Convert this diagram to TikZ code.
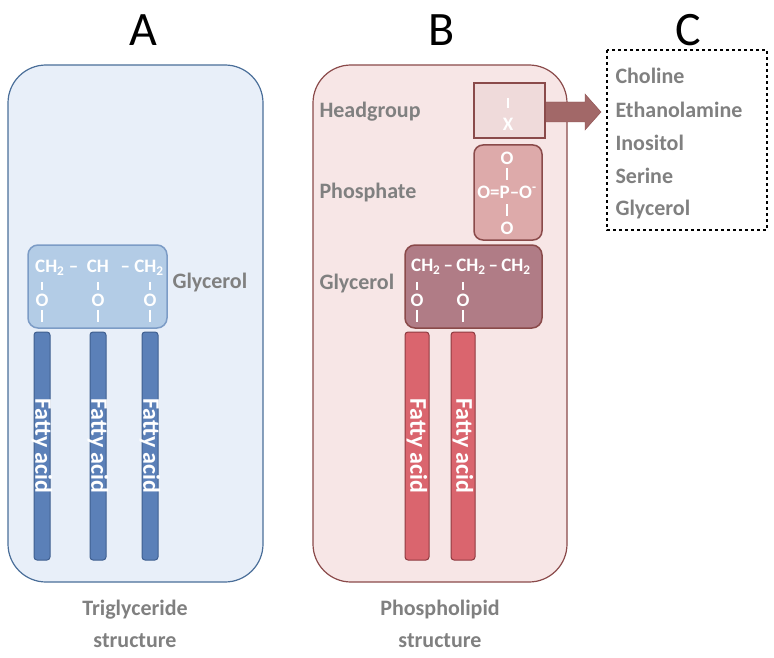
\documentclass[tikz,border=0pt]{standalone}
\usepackage{fontspec}
\setmainfont{Carlito}
\usetikzlibrary{shapes.arrows}
\definecolor{gtxt}{HTML}{808080}
\definecolor{bpanel}{HTML}{E8EFF9}
\definecolor{bborder}{HTML}{4A6E99}
\definecolor{bgly}{HTML}{B3CCE6}
\definecolor{bglyb}{HTML}{7C9CC6}
\definecolor{bfa}{HTML}{5B80B8}
\definecolor{bfab}{HTML}{3F5F90}
\definecolor{rpanel}{HTML}{F7E6E6}
\definecolor{rborder}{HTML}{8A4A4A}
\definecolor{rhead}{HTML}{EFDADA}
\definecolor{rphos}{HTML}{DDAAAA}
\definecolor{rgly}{HTML}{B07C86}
\definecolor{rfa}{HTML}{DA656E}
\definecolor{rfab}{HTML}{8F3A40}
\definecolor{rarrow}{HTML}{A26868}
\begin{document}
\begin{tikzpicture}[x=1pt,y=-1pt,
  lab/.style={font=\fontsize{22}{24}\selectfont\bfseries, text=gtxt},
  big/.style={font=\fontsize{48}{50}\selectfont},
  chem/.style={font=\fontsize{19}{20}\selectfont\bfseries, text=white, inner sep=0},
  fa/.style={font=\fontsize{24}{26}\selectfont\bfseries, text=white, rotate=-90}]
\useasboundingbox (0,0) rectangle (774,658);
% headings
\node[big] (hA) at (143,30) {A};
\node[big] (hB) at (442,30) {B};
\node[big] (hC) at (688,30) {C};
% panel A
\draw[bborder, fill=bpanel, line width=1.2, rounded corners=38] (8,65) rectangle (263,582);
\draw[bglyb, fill=bgly, line width=1.5, rounded corners=10] (28,245) rectangle (167,328);
\node[chem, anchor=west] (ga1) at (35,268) {CH\textsubscript{2} -- \ CH \ \,-- CH\textsubscript{2}};
\foreach \x/\n in {42/a,98/b,150/c}{
  \node[chem] (o\n) at (\x,300) {O};
  \draw[white, line width=1.5] (\x,282) -- (\x,290) (\x,310) -- (\x,322);
  \draw[bfab, fill=bfa, line width=1, rounded corners=3] (\x-8,332) rectangle (\x+8,560);
  \node[fa] (fa\n) at (\x,446) {Fatty acid};
}
\node[lab, anchor=west] (glyA) at (169,283) {Glycerol};
\node[lab, align=center] (tri) at (135,624) {Triglyceride\\[8pt]structure};
% panel B
\draw[rborder, fill=rpanel, line width=1.2, rounded corners=38] (313,65) rectangle (567,582);
\node[lab, anchor=west] (lh) at (316,112) {Headgroup};
\node[lab, anchor=west] (lp) at (316,193) {Phosphate};
\node[lab, anchor=west] (lg) at (316,284) {Glycerol};
% arrow
\fill[rarrow, draw=rborder] (545,102) -- (585,102) -- (585,94) -- (601,112) -- (585,130) -- (585,122) -- (545,122) -- cycle;
\draw[rborder, fill=rhead, line width=1.5] (474,83) rectangle (545,138);
\draw[white, line width=1.5] (508,98) -- (508,108);
\node[chem] (X) at (508,124) {X};
\draw[rborder, fill=rphos, line width=1.5, rounded corners=9] (474,145) rectangle (542,240);
\node[chem] (p1) at (507,158) {O};
\draw[white, line width=1.5] (507,168) -- (507,180) (507,204) -- (507,216);
\node[chem] (p2) at (507,192) {O=P--O\textsuperscript{-}};
\node[chem] (p3) at (507,228) {O};
\draw[rborder, fill=rgly, line width=1.5, rounded corners=10] (405,245) rectangle (542,328);
\node[chem, anchor=west] (gb1) at (411,267) {CH\textsubscript{2}\,--\,CH\textsubscript{2}\,--\,CH\textsubscript{2}};
\foreach \x/\n in {417/a,463/b}{
  \node[chem] (ob\n) at (\x,300) {O};
  \draw[white, line width=1.5] (\x,282) -- (\x,290) (\x,310) -- (\x,322);
  \draw[rfab, fill=rfa, line width=1, rounded corners=3] (\x-12,332) rectangle (\x+12,560);
  \node[fa] (fb\n) at (\x,446) {Fatty acid};
}
\node[lab, align=center] (pho) at (440,624) {Phospholipid\\[8pt]structure};
% C box
\draw[dashed, line width=1.2] (607,50) rectangle (767,230);
\foreach \y/\t in {76/Choline,110/Ethanolamine,143/Inositol,176/Serine,210/Glycerol}
  \node[lab, anchor=west] at (612,\y) {\t};
\end{tikzpicture}
\end{document}
